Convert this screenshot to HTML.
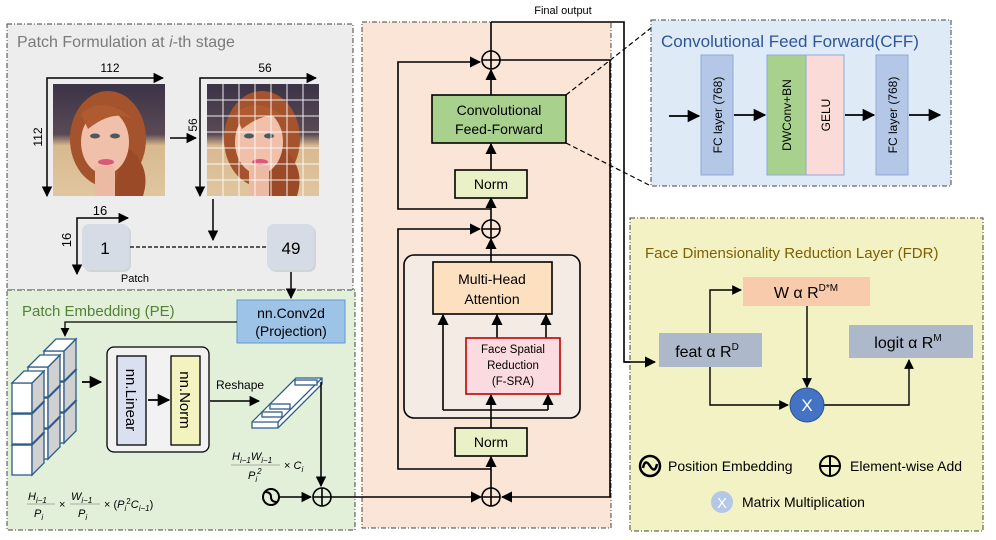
<!DOCTYPE html>
<html><head><meta charset="utf-8"><style>
html,body{margin:0;padding:0;background:#fff;width:996px;height:540px;overflow:hidden}
svg{display:block}
text{font-family:"Liberation Sans","DejaVu Sans",sans-serif;fill:#000}
</style></head><body>
<svg width="996" height="540" viewBox="0 0 996 540" xmlns="http://www.w3.org/2000/svg">
<defs>
<marker id="ah" viewBox="0 0 10 10" refX="9" refY="5" markerWidth="7" markerHeight="7" orient="auto-start-reverse"><path d="M0,0 L10,5 L0,10 z" fill="#000"/></marker>
<linearGradient id="bg" x1="0" y1="0" x2="0" y2="1"><stop offset="0" stop-color="#3b3347"/><stop offset="0.45" stop-color="#5a4a55"/><stop offset="0.55" stop-color="#d8b98f"/><stop offset="1" stop-color="#e0c6a0"/></linearGradient>
<g id="face">
<rect x="0" y="0" width="112" height="112" fill="url(#bg)"/>
<ellipse cx="55" cy="55" rx="38" ry="48" fill="#a4532c"/>
<path d="M70 60 Q100 80 90 112 L60 112 Z" fill="#9a4a26"/>
<ellipse cx="52" cy="58" rx="24" ry="32" fill="#f0c0aa"/>
<rect x="42" y="82" width="20" height="30" fill="#ecb9a2"/>
<ellipse cx="42" cy="52" rx="5" ry="2.5" fill="#4a5a60"/>
<ellipse cx="62" cy="52" rx="5" ry="2.5" fill="#4a5a60"/>
<ellipse cx="53" cy="78" rx="8" ry="3" fill="#d85a78"/>
<path d="M28 30 Q50 10 80 35 Q60 25 35 45 Z" fill="#b05a30"/>
</g>
</defs>

<!-- Panel 1 -->
<rect x="7" y="24" width="346" height="266" fill="#ededed" stroke="#444" stroke-width="1" stroke-dasharray="5,2,1,2"/>
<text x="17" y="47" font-size="16" style="fill:#7a7a7a">Patch Formulation at <tspan font-style="italic">i</tspan>-th stage</text>
<use href="#face" x="53" y="84"/>
<use href="#face" x="207" y="84"/>
<g stroke="#fff" stroke-width="1" opacity="0.9">
<line x1="223" y1="84" x2="223" y2="196"/><line x1="239" y1="84" x2="239" y2="196"/><line x1="255" y1="84" x2="255" y2="196"/><line x1="271" y1="84" x2="271" y2="196"/><line x1="287" y1="84" x2="287" y2="196"/><line x1="303" y1="84" x2="303" y2="196"/>
<line x1="207" y1="100" x2="319" y2="100"/><line x1="207" y1="116" x2="319" y2="116"/><line x1="207" y1="132" x2="319" y2="132"/><line x1="207" y1="148" x2="319" y2="148"/><line x1="207" y1="164" x2="319" y2="164"/><line x1="207" y1="180" x2="319" y2="180"/>
</g>
<g stroke="#000" stroke-width="1.5" fill="none">
<path d="M47 196 L47 78 L163 78" marker-end="url(#ah)" marker-start="url(#ah)"/>
<path d="M200 196 L200 78 L316 78" marker-end="url(#ah)" marker-start="url(#ah)"/>
<line x1="170" y1="138" x2="196" y2="138" marker-end="url(#ah)"/>
<line x1="213" y1="199" x2="213" y2="240" marker-end="url(#ah)"/>
<path d="M77 274 L77 218 L128 218" marker-end="url(#ah)" marker-start="url(#ah)"/>
</g>
<text x="110" y="72" font-size="12" text-anchor="middle">112</text>
<text x="265" y="72" font-size="12" text-anchor="middle">56</text>
<text transform="translate(42,137) rotate(-90)" font-size="12" text-anchor="middle">112</text>
<text transform="translate(197,125) rotate(-90)" font-size="12" text-anchor="middle">56</text>
<text x="100" y="215" font-size="13" text-anchor="middle">16</text>
<text transform="translate(71,240) rotate(-90)" font-size="13" text-anchor="middle">16</text>
<rect x="84" y="226" width="47" height="46" rx="7" fill="#bfc4c9" opacity="0.6"/>
<rect x="82" y="224" width="47" height="46" rx="7" fill="#d6dce5"/>
<rect x="269" y="226" width="47" height="46" rx="7" fill="#bfc4c9" opacity="0.6"/>
<rect x="267" y="224" width="47" height="46" rx="7" fill="#d6dce5"/>
<text x="105" y="254" font-size="17" text-anchor="middle">1</text>
<text x="291" y="254" font-size="17" text-anchor="middle">49</text>
<line x1="130" y1="247" x2="267" y2="247" stroke="#000" stroke-width="1.2" stroke-dasharray="4,2"/>
<text x="135" y="282" font-size="11" text-anchor="middle">Patch</text>

<!-- Panel 2 -->
<rect x="7" y="290" width="348" height="240" fill="#e2efd9" stroke="#444" stroke-width="1" stroke-dasharray="5,2,1,2"/>
<text x="22" y="316" font-size="15" style="fill:#548235">Patch Embedding (PE)</text>
<line x1="291" y1="272" x2="291" y2="298" stroke="#000" stroke-width="1.5" marker-end="url(#ah)"/>
<rect x="237" y="300" width="108" height="43" fill="#9dc3e6" stroke="#5b9bd5"/>
<text x="291" y="318" font-size="14" text-anchor="middle">nn.Conv2d</text>
<text x="291" y="336" font-size="14" text-anchor="middle">(Projection)</text>
<path d="M237 322 L65 322 L65 336" stroke="#000" stroke-width="1.3" fill="none" marker-end="url(#ah)"/>
<!-- cubes -->
<g stroke="#2e5c8a" stroke-width="1.3">
<g transform="translate(32,-32)">
<g id="col"><g id="cube" transform="translate(0,62)"><rect x="12" y="383" width="20" height="30" fill="#fff"/><path d="M32 383 l12 -12 v30 l-12 12 z" fill="#d0d0d0"/><path d="M12 383 l12 -12 h20 l-12 12 z" fill="#fff"/></g>
<g transform="translate(0,31)"><rect x="12" y="383" width="20" height="30" fill="#fff"/><path d="M32 383 l12 -12 v30 l-12 12 z" fill="#d0d0d0"/><path d="M12 383 l12 -12 h20 l-12 12 z" fill="#fff"/></g>
<g><rect x="12" y="383" width="20" height="30" fill="#fff"/><path d="M32 383 l12 -12 v30 l-12 12 z" fill="#d0d0d0"/><path d="M12 383 l12 -12 h20 l-12 12 z" fill="#fff"/></g></g></g>
<g transform="translate(16,-16)"><use href="#col"/></g>
<use href="#col"/>
</g>
<line x1="82" y1="382" x2="101" y2="382" stroke="#000" stroke-width="1.8" marker-end="url(#ah)"/>
<rect x="107" y="347" width="102" height="105" rx="7" fill="#f2f2f2" stroke="#000" stroke-width="1.3"/>
<rect x="117" y="356" width="29" height="89" fill="#dae0f0" stroke="#000" stroke-width="1.3"/>
<rect x="171" y="356" width="29" height="89" fill="#f3f3bf" stroke="#000" stroke-width="1.3"/>
<text transform="translate(126,400) rotate(90)" font-size="15" text-anchor="middle">nn.Linear</text>
<text transform="translate(180,400) rotate(90)" font-size="15" text-anchor="middle">nn.Norm</text>
<line x1="148" y1="400" x2="169" y2="400" stroke="#000" stroke-width="1.8" marker-end="url(#ah)"/>
<text x="216" y="389" font-size="12">Reshape</text>
<line x1="210" y1="401" x2="259" y2="401" stroke="#000" stroke-width="1.5" marker-end="url(#ah)"/>
<g stroke="#2e5c8a" stroke-width="1.3" fill="#fff">
<path d="M252 422 L296 378 L322 378 L322 384 L278 428 L252 428 Z"/>
<path d="M252 422 L278 422 L322 378"/>
<path d="M278 422 L278 428"/>
<rect x="295" y="380" width="22" height="5" />
<rect x="270" y="404" width="20" height="5"/>
<rect x="262" y="412" width="20" height="5"/>
</g>
<text x="232" y="460" font-size="11" font-style="italic" font-family="Liberation Serif">H<tspan font-size="8" dy="3">i−1</tspan><tspan dy="-3">W</tspan><tspan font-size="8" dy="3">i−1</tspan></text>
<line x1="231" y1="465" x2="280" y2="465" stroke="#998" stroke-width="0.8"/>
<text x="248" y="479" font-size="11" font-style="italic" font-family="Liberation Serif">P<tspan font-size="8" dy="3">i</tspan><tspan font-size="8" dy="-8">2</tspan></text>
<text x="284" y="469" font-size="11" font-family="Liberation Serif">× <tspan font-style="italic">C</tspan><tspan font-size="8" dy="3" font-style="italic">i</tspan></text>
<text x="28" y="500" font-size="11" font-style="italic" font-family="Liberation Serif">H<tspan font-size="8" dy="3">i−1</tspan></text>
<line x1="27" y1="504" x2="55" y2="504" stroke="#998" stroke-width="0.8"/>
<text x="34" y="517" font-size="11" font-style="italic" font-family="Liberation Serif">P<tspan font-size="8" dy="3">i</tspan></text>
<text x="59" y="508" font-size="11" font-family="Liberation Serif">×</text>
<text x="71" y="500" font-size="11" font-style="italic" font-family="Liberation Serif">W<tspan font-size="8" dy="3">i−1</tspan></text>
<line x1="70" y1="504" x2="100" y2="504" stroke="#998" stroke-width="0.8"/>
<text x="78" y="517" font-size="11" font-style="italic" font-family="Liberation Serif">P<tspan font-size="8" dy="3">i</tspan></text>
<text x="104" y="508" font-size="11" font-family="Liberation Serif">× (<tspan font-style="italic">P</tspan><tspan font-size="8" dy="3" font-style="italic">i</tspan><tspan font-size="8" dy="-7">2</tspan><tspan dy="4" font-style="italic">C</tspan><tspan font-size="8" dy="3" font-style="italic">i−1</tspan><tspan dy="-3">)</tspan></text>
<line x1="321" y1="382" x2="321" y2="486" stroke="#000" stroke-width="1.5" marker-end="url(#ah)"/>
<circle cx="271" cy="497" r="8" fill="none" stroke="#000" stroke-width="2"/>
<path d="M265 492 Q271 492 271 497 Q271 502 277 502" fill="none" stroke="#000" stroke-width="2"/>
<line x1="279" y1="497" x2="311" y2="497" stroke="#000" stroke-width="1.5" marker-end="url(#ah)"/>

<!-- Panel 3 -->
<rect x="362" y="22" width="249" height="506" fill="#fbe5d6" stroke="#444" stroke-width="1" stroke-dasharray="5,2,1,2"/>
<g stroke="#000" stroke-width="1.6" fill="none">
<line x1="331" y1="497" x2="481" y2="497" marker-end="url(#ah)"/>
<path d="M610 60 L610 497 L502 497" marker-end="url(#ah)"/>
<line x1="491" y1="51" x2="491" y2="22"/>
<path d="M491 22 L624 22 L624 362 L655 362" marker-end="url(#ah)"/>
<line x1="500" y1="60" x2="610" y2="60"/>
<path d="M491 209 L398 209 L398 62 L480 62" marker-end="url(#ah)"/>
<path d="M491 469 L398 469 L398 229 L480 229" marker-end="url(#ah)"/>
<line x1="491" y1="488" x2="491" y2="457" marker-end="url(#ah)"/>
<line x1="491" y1="95" x2="491" y2="70" marker-end="url(#ah)"/>
<line x1="491" y1="170" x2="491" y2="144" marker-end="url(#ah)"/>
<line x1="491" y1="220" x2="491" y2="198" marker-end="url(#ah)"/>
<line x1="491" y1="255" x2="491" y2="239" marker-end="url(#ah)"/>
</g>
<rect x="404" y="255" width="176" height="163" rx="10" fill="#f4ebe5" stroke="#000" stroke-width="1.6"/>
<g stroke="#000" stroke-width="1.6" fill="none">
<line x1="491" y1="262" x2="491" y2="255"/>
<line x1="491" y1="428" x2="491" y2="410"/>
<path d="M443 410 L548 410"/>
<line x1="443" y1="410" x2="443" y2="315" marker-end="url(#ah)"/>
<line x1="491" y1="410" x2="491" y2="395" marker-end="url(#ah)"/>
<line x1="548" y1="410" x2="548" y2="395" marker-end="url(#ah)"/>
<line x1="497" y1="338" x2="497" y2="315" marker-end="url(#ah)"/>
<line x1="546" y1="338" x2="546" y2="315" marker-end="url(#ah)"/>
</g>
<rect x="433" y="262" width="119" height="52" fill="#fde0c0" stroke="#000" stroke-width="1.6"/>
<text x="492" y="284" font-size="14" text-anchor="middle">Multi-Head</text>
<text x="492" y="304" font-size="14" text-anchor="middle">Attention</text>
<rect x="466" y="338" width="94" height="56" fill="#fbdbe0" stroke="#c00000" stroke-width="1.6"/>
<text x="513" y="353" font-size="11.5" text-anchor="middle">Face Spatial</text>
<text x="513" y="369" font-size="11.5" text-anchor="middle">Reduction</text>
<text x="513" y="385" font-size="11.5" text-anchor="middle">(F-SRA)</text>
<rect x="455" y="428" width="72" height="28" fill="#ebf1c6" stroke="#000" stroke-width="1.6"/>
<text x="491" y="447" font-size="14" text-anchor="middle">Norm</text>
<rect x="455" y="170" width="72" height="28" fill="#ebf1c6" stroke="#000" stroke-width="1.6"/>
<text x="491" y="189" font-size="14" text-anchor="middle">Norm</text>
<rect x="432" y="95" width="134" height="48" fill="#a9d18e" stroke="#000" stroke-width="1.6"/>
<text x="499" y="115" font-size="14" text-anchor="middle">Convolutional</text>
<text x="499" y="134" font-size="14" text-anchor="middle">Feed-Forward</text>
<g fill="none" stroke="#000" stroke-width="1.6">
<circle cx="491" cy="60" r="9"/><path d="M482 60 h18 M491 51 v18"/>
<circle cx="491" cy="229" r="9"/><path d="M482 229 h18 M491 220 v18"/>
<circle cx="491" cy="497" r="9"/><path d="M482 497 h18 M491 488 v18"/>
<circle cx="322" cy="497" r="9"/><path d="M313 497 h18 M322 488 v18"/>
</g>
<text x="563" y="14" font-size="11" text-anchor="middle">Final output</text>
<line x1="566" y1="95" x2="651" y2="28" stroke="#000" stroke-width="1.2" stroke-dasharray="5,3"/>
<line x1="566" y1="143" x2="651" y2="186" stroke="#000" stroke-width="1.2" stroke-dasharray="5,3"/>

<!-- Panel 4 CFF -->
<rect x="651" y="20" width="300" height="166" fill="#deebf7" stroke="#444" stroke-width="1" stroke-dasharray="5,2,1,2"/>
<text x="661" y="47" font-size="17" style="fill:#2f5597">Convolutional Feed Forward(CFF)</text>
<rect x="701" y="55" width="32" height="120" fill="#b4c7e7" stroke="#8faadc"/>
<rect x="767" y="55" width="39" height="120" fill="#a9d18e" stroke="#8faadc"/>
<rect x="806" y="55" width="38" height="120" fill="#fadbd8" stroke="#8faadc"/>
<rect x="876" y="55" width="32" height="120" fill="#b4c7e7" stroke="#8faadc"/>
<text transform="translate(722,115) rotate(-90)" font-size="12" text-anchor="middle">FC layer (768)</text>
<text transform="translate(791,115) rotate(-90)" font-size="12" text-anchor="middle">DWConv+BN</text>
<text transform="translate(830,115) rotate(-90)" font-size="12" text-anchor="middle">GELU</text>
<text transform="translate(897,115) rotate(-90)" font-size="12" text-anchor="middle">FC layer (768)</text>
<g stroke="#000" stroke-width="1.8">
<line x1="669" y1="116" x2="699" y2="116" marker-end="url(#ah)"/>
<line x1="734" y1="115" x2="765" y2="115" marker-end="url(#ah)"/>
<line x1="845" y1="115" x2="874" y2="115" marker-end="url(#ah)"/>
<line x1="909" y1="115" x2="940" y2="115" marker-end="url(#ah)"/>
</g>

<!-- Panel 5 FDR -->
<rect x="630" y="218" width="353" height="313" fill="#f2f2c4" stroke="#444" stroke-width="1" stroke-dasharray="5,2,1,2"/>
<line x1="624" y1="362" x2="655" y2="362" stroke="#000" stroke-width="1.6" marker-end="url(#ah)"/>
<text x="645" y="258" font-size="15" style="fill:#7f6000">Face Dimensionality Reduction Layer (FDR)</text>
<rect x="743" y="277" width="127" height="29" fill="#f8cbad"/>
<text x="806" y="298" font-size="16" text-anchor="middle">W α R<tspan font-size="10" dy="-7">D*M</tspan></text>
<rect x="659" y="333" width="103" height="34" fill="#adb9ca"/>
<text x="707" y="357" font-size="16" text-anchor="middle">feat α R<tspan font-size="10" dy="-7">D</tspan></text>
<rect x="849" y="325" width="124" height="33" fill="#adb9ca"/>
<text x="908" y="348" font-size="16" text-anchor="middle">logit α R<tspan font-size="10" dy="-7">M</tspan></text>
<g stroke="#000" stroke-width="1.4" fill="none">
<path d="M710 333 L710 290 L741 290" marker-end="url(#ah)"/>
<line x1="807" y1="306" x2="807" y2="387" marker-end="url(#ah)"/>
<path d="M710 367 L710 405 L788 405" marker-end="url(#ah)"/>
<path d="M824 405 L909 405 L909 360" marker-end="url(#ah)"/>
</g>
<circle cx="807" cy="405" r="17" fill="#4472c4" stroke="#2f528f"/>
<text x="807" y="411" font-size="17" text-anchor="middle" style="fill:#fff">X</text>
<circle cx="650" cy="466" r="10" fill="none" stroke="#000" stroke-width="2.5"/>
<path d="M643 468 Q645 458 650 466 Q655 474 657 464" fill="none" stroke="#000" stroke-width="2.5"/>
<text x="668" y="471" font-size="14">Position Embedding</text>
<circle cx="830" cy="466" r="10" fill="none" stroke="#000" stroke-width="2"/>
<path d="M820 466 h20 M830 456 v20" stroke="#000" stroke-width="2"/>
<text x="850" y="471" font-size="14">Element-wise Add</text>
<circle cx="722" cy="502" r="11" fill="#b4c7e7"/>
<text x="722" y="508" font-size="15" text-anchor="middle" style="fill:#fff">X</text>
<text x="742" y="507" font-size="14">Matrix Multiplication</text>
</svg>
</body></html>
